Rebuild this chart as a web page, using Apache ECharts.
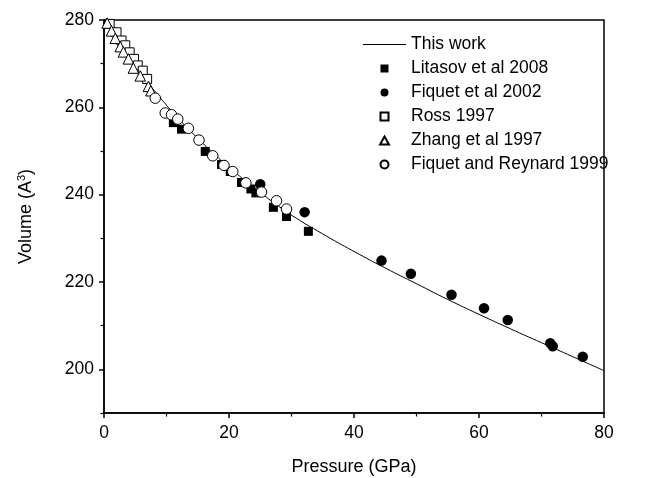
<!DOCTYPE html>
<html>
<head>
<meta charset="utf-8">
<script src="https://cdn.jsdelivr.net/npm/echarts@6/dist/echarts.min.js"></script>
<style>html,body{margin:0;padding:0;background:#fff}#c{width:651px;height:478px}</style>
</head>
<body>
<div id="c"></div>
<script>
// "This work" curve (pressure GPa, volume A^3)
const curveP = [0, 2, 4, 6, 8, 10, 12, 14, 16, 18, 20, 22, 24, 26, 28, 30, 35, 40, 45, 50, 55, 60, 65, 70, 75, 80];
const curveV = [280, 275.6, 271.5, 267.6, 263.9, 260.5, 257.3, 254.3, 251.5, 248.8, 246.3, 243.9, 241.6, 239.4, 237.3, 235.3, 231.0, 227.0, 223.2, 219.6, 216.0, 212.6, 209.3, 206.1, 202.9, 199.7];

const litasovP = [11.1, 12.4, 16.2, 18.8, 20.2, 22.0, 23.5, 24.3, 27.1, 29.2, 32.7];
const litasovV = [256.5, 255.0, 249.9, 246.9, 245.3, 242.8, 241.3, 240.4, 237.1, 235.0, 231.6];

const fiquet02P = [25.0, 32.1, 44.4, 49.1, 55.6, 60.8, 64.6, 71.4, 71.8, 76.6];
const fiquet02V = [242.4, 236.0, 224.9, 221.9, 217.1, 214.0, 211.3, 206.0, 205.3, 202.9];

const rossP = [0.9, 2.0, 2.8, 3.4, 4.1, 4.8, 5.4, 6.2, 6.9];
const rossV = [279.1, 277.2, 275.3, 274.2, 272.6, 271.1, 269.6, 268.4, 266.5];

const zhangP = [0.5, 1.2, 1.8, 2.6, 3.1, 3.9, 4.7, 5.8, 7.1, 7.5];
const zhangV = [279.3, 277.5, 275.8, 273.9, 272.7, 271.1, 269.0, 267.2, 264.8, 263.8];

const fiqReyP = [8.2, 9.8, 10.8, 11.8, 13.5, 15.2, 17.4, 19.2, 20.6, 22.7, 25.2, 27.6, 29.2];
const fiqReyV = [262.1, 258.7, 258.3, 257.3, 255.2, 252.5, 248.9, 246.7, 245.3, 242.7, 240.6, 238.6, 236.7];

const xTicks = [0, 20, 40, 60, 80];
const yTicks = [200, 220, 240, 260, 280];
const yMinorTicks = [190, 210, 230, 250, 270];

const zip = (a, b) => a.map((v, i) => [v, b[i]]);
const FONT = 'Liberation Sans, Arial, sans-serif';

const chart = echarts.init(document.getElementById('c'), null, {renderer: 'canvas'});
const filled = {color: '#000', opacity: 1};
const open = {color: '#fff', borderColor: '#000', borderWidth: 1, opacity: 1};

const ICON_LINE = 'path://M0,0 L43,0 L43,1 L0,1 Z';
const ICON_SQUARE = 'path://M0,0 L10,0 L10,10 L0,10 Z';
const ICON_CIRCLE = 'path://M5,0 A5,5 0 1,1 5,10 A5,5 0 1,1 5,0 Z';
const ICON_TRI = 'path://M5,0 L10,9 L0,9 Z';

chart.setOption({
  animation: false,
  backgroundColor: '#fff',
  grid: {left: 104, right: 47, top: 20, bottom: 65, outerBoundsMode: 'none', containLabel: false,
         show: true, borderColor: '#000', borderWidth: 1.5, backgroundColor: 'transparent'},
  legend: {
    orient: 'vertical', left: 358, top: 30.5,
    itemWidth: 43, itemHeight: 8, itemGap: 6, symbolKeepAspect: true,
    textStyle: {fontFamily: FONT, fontSize: 17.5, color: '#000', lineHeight: 17.5},
    data: [
      {name: 'This work', icon: ICON_LINE, itemStyle: {color: '#000', borderWidth: 0}},
      {name: 'Litasov et al 2008', icon: ICON_SQUARE},
      {name: 'Fiquet et al 2002', icon: ICON_CIRCLE},
      {name: 'Ross 1997', icon: ICON_SQUARE},
      {name: 'Zhang et al 1997', icon: ICON_TRI},
      {name: 'Fiquet and Reynard 1999', icon: ICON_CIRCLE}
    ]
  },
  xAxis: {
    type: 'value', min: 0, max: 80, interval: 20,
    name: 'Pressure (GPa)', nameLocation: 'middle', nameGap: 45,
    nameTextStyle: {fontFamily: FONT, fontSize: 18, color: '#000'},
    axisLine: {lineStyle: {color: '#000', width: 1.5}},
    axisTick: {inside: false, length: 5, lineStyle: {color: '#000', width: 1.5}},
    minorTick: {show: true, splitNumber: 2, length: 3.5, lineStyle: {color: '#000', width: 1.2}},
    axisLabel: {fontFamily: FONT, fontSize: 17.5, color: '#000', margin: 11, customValues: xTicks},
    splitLine: {show: false}
  },
  yAxis: [{
    type: 'value', min: 190, max: 280,
    name: '{a|Volume (A}{s|3}{a|)}', nameLocation: 'middle', nameGap: 68,
    nameTextStyle: {rich: {
      a: {fontFamily: FONT, fontSize: 18, color: '#000'},
      s: {fontFamily: FONT, fontSize: 11, color: '#000', verticalAlign: 'top', padding: [0, 0, 9, 0]}
    }},
    axisLine: {lineStyle: {color: '#000', width: 1.5}},
    axisTick: {inside: false, length: 5, customValues: yTicks, lineStyle: {color: '#000', width: 1.5}},
    axisLabel: {fontFamily: FONT, fontSize: 17.5, color: '#000', margin: 10, customValues: yTicks},
    splitLine: {show: false}
  }, {
    type: 'value', min: 190, max: 280, position: 'left',
    axisLine: {show: false},
    axisTick: {show: true, inside: false, length: 3.5, customValues: yMinorTicks, lineStyle: {color: '#000', width: 1.2}},
    axisLabel: {show: false},
    splitLine: {show: false}
  }],
  series: [
    {name: 'This work', type: 'line', data: zip(curveP, curveV), smooth: true, showSymbol: false, symbol: 'none',
     lineStyle: {color: '#000', width: 1}, itemStyle: {color: '#000'}, z: 1},
    {name: 'Litasov et al 2008', type: 'scatter', symbol: 'rect', symbolSize: 9, data: zip(litasovP, litasovV), itemStyle: filled, z: 2},
    {name: 'Fiquet et al 2002', type: 'scatter', symbol: 'circle', symbolSize: 10.5, data: zip(fiquet02P, fiquet02V), itemStyle: filled, z: 2},
    {name: 'Ross 1997', type: 'scatter', symbol: 'rect', symbolSize: 9, data: zip(rossP, rossV), itemStyle: open, z: 3},
    {name: 'Zhang et al 1997', type: 'scatter', symbol: 'triangle', symbolSize: 10.5, data: zip(zhangP, zhangV), itemStyle: open, z: 3},
    {name: 'Fiquet and Reynard 1999', type: 'scatter', symbol: 'circle', symbolSize: 10.5, data: zip(fiqReyP, fiqReyV), itemStyle: open, z: 3}
  ]
});
</script>
</body>
</html>
